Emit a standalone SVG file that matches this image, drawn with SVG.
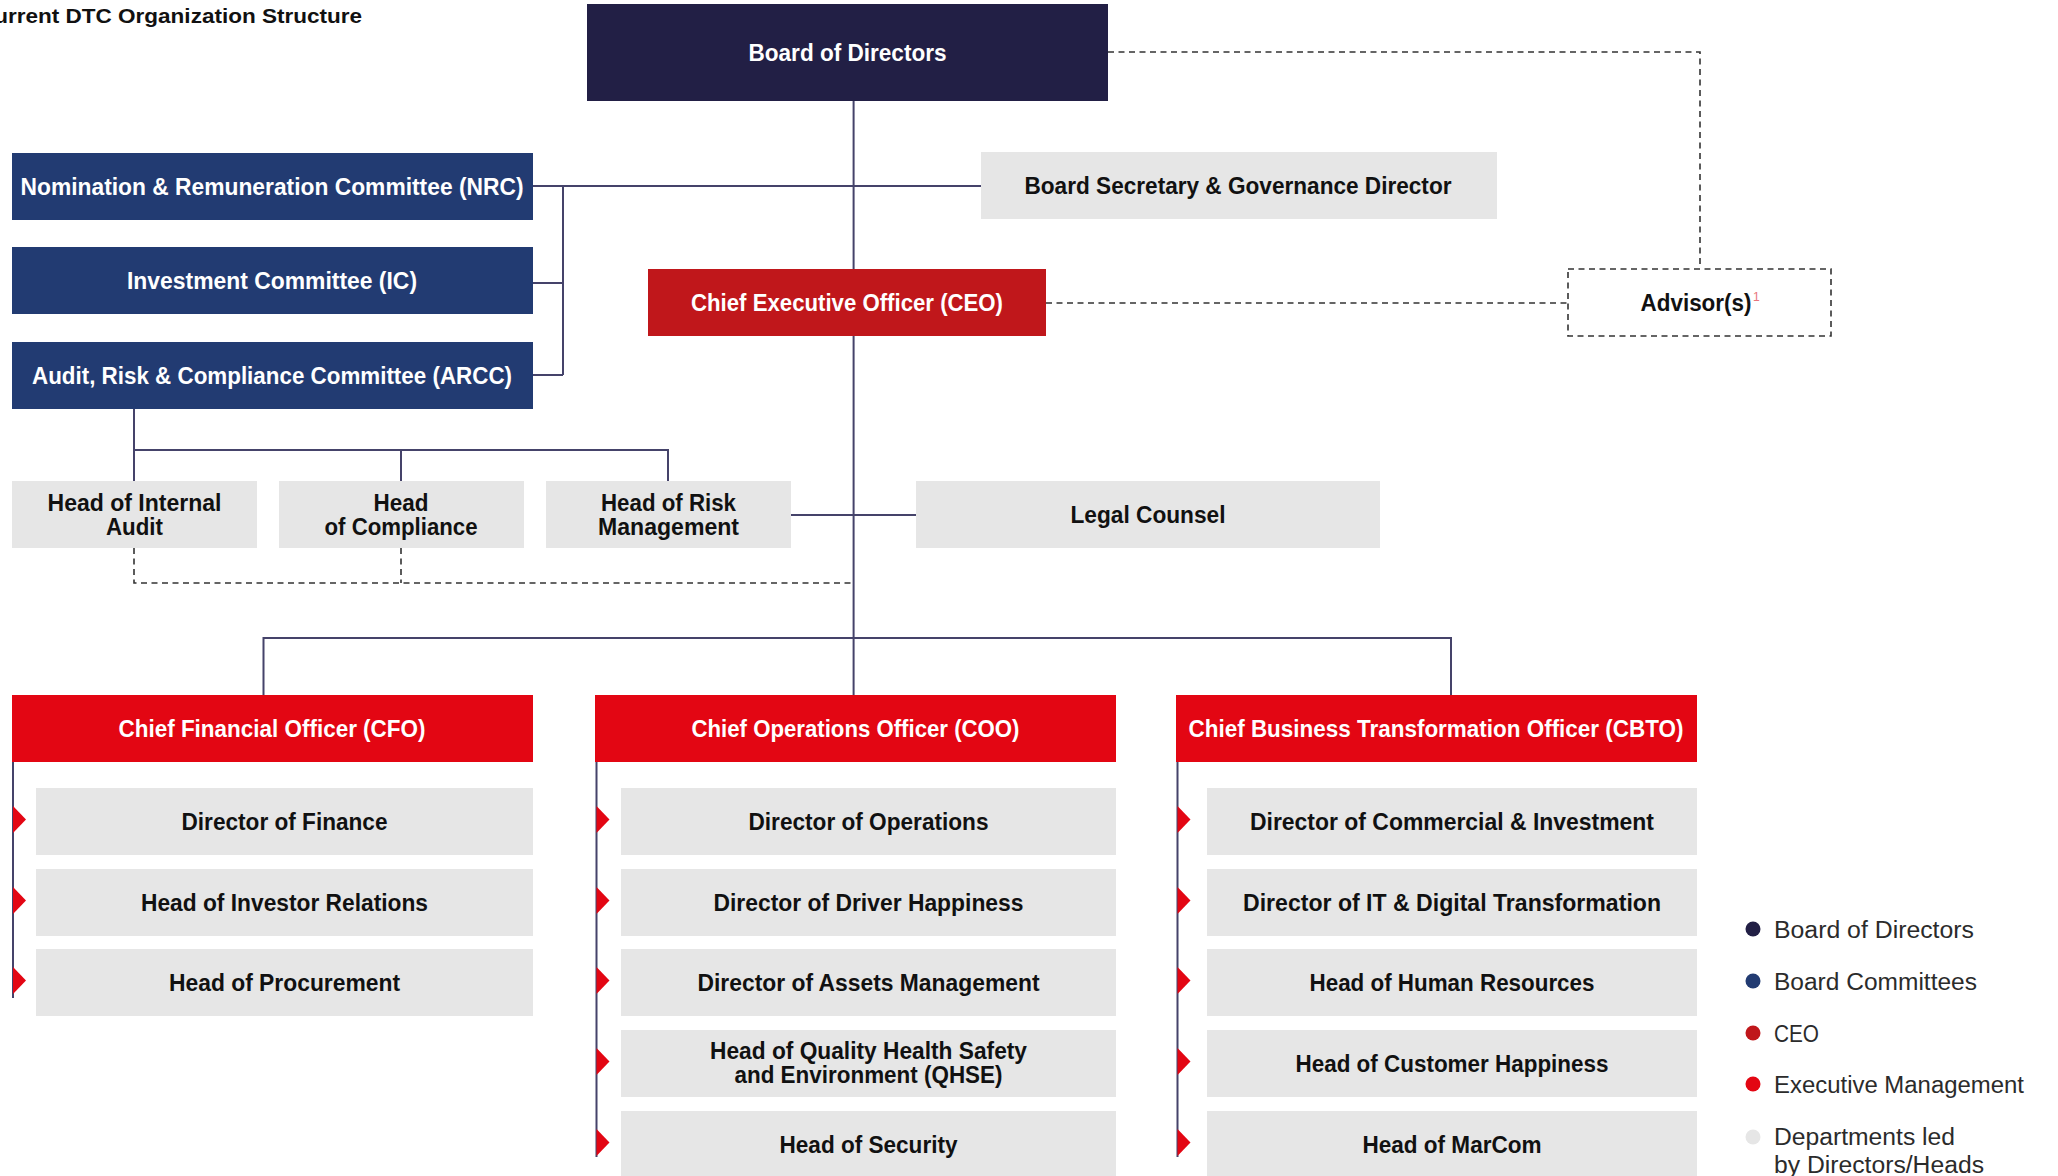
<svg xmlns="http://www.w3.org/2000/svg" width="2058" height="1176" viewBox="0 0 2058 1176">
<style>
.t{font-family:"Liberation Sans",Arial,sans-serif;font-weight:bold;font-size:23px;text-anchor:middle}
.w{fill:#ffffff}
.k{fill:#111111}
.board{fill:#221f45}
.comm{fill:#223b72}
.ceo{fill:#c0171b}
.exec{fill:#e30613}
.dept{fill:#e6e6e6}
.ln{fill:none;stroke:#45436a;stroke-width:2}
.dash{fill:none;stroke:#333333;stroke-width:1.6;stroke-dasharray:6 4.5}
.mk{fill:#e30613}
.leg{font-family:"Liberation Sans",Arial,sans-serif;font-size:23px;fill:#2b2b2b}
</style>
<rect width="2058" height="1176" fill="#ffffff"/>
<text x="362" y="23" class="t k" style="text-anchor:end;font-size:21px" textLength="384" lengthAdjust="spacingAndGlyphs">Current DTC Organization Structure</text>

<g id="connectors">
<path class="ln" d="M853.6,101 V695"/>
<path class="ln" d="M533,186 H981 M533,283 H563 M533,375 H563 M563,186 V375"/>
<path class="ln" d="M134,409 V481 M134,450 H668 V481 M401,450 V481"/>
<path class="ln" d="M791,515 H916"/>
<path class="ln" d="M263.5,695 V638 H1451 V695"/>
<path class="ln" d="M13,762 V998 M596.5,762 V1157 M1177.5,762 V1157"/>
<path class="dash" d="M1108,52 H1700 V268"/>
<path class="dash" d="M1046,303 H1568"/>
<path class="dash" d="M134,548 V583 H853.6 M401,548 V583"/>
<g class="mk">
<polygon points="13,806 26,819.5 13,833"/>
<polygon points="13,887 26,900.5 13,914"/>
<polygon points="13,967 26,980.5 13,994"/>
<polygon points="596.5,806 609.5,819.5 596.5,833"/>
<polygon points="596.5,887 609.5,900.5 596.5,914"/>
<polygon points="596.5,967 609.5,980.5 596.5,994"/>
<polygon points="596.5,1048 609.5,1061.5 596.5,1075"/>
<polygon points="596.5,1129 609.5,1142.5 596.5,1156"/>
<polygon points="1177.5,806 1190.5,819.5 1177.5,833"/>
<polygon points="1177.5,887 1190.5,900.5 1177.5,914"/>
<polygon points="1177.5,967 1190.5,980.5 1177.5,994"/>
<polygon points="1177.5,1048 1190.5,1061.5 1177.5,1075"/>
<polygon points="1177.5,1129 1190.5,1142.5 1177.5,1156"/>
</g>
</g>

<g id="board"><rect class="board" x="587" y="4" width="521" height="97"/><text class="t w" x="847.5" y="61" textLength="198" lengthAdjust="spacingAndGlyphs">Board of Directors</text></g>
<g id="nrc"><rect class="comm" x="12" y="153" width="521" height="67"/><text class="t w" x="272" y="195" textLength="503" lengthAdjust="spacingAndGlyphs">Nomination &amp; Remuneration Committee (NRC)</text></g>
<g id="ic"><rect class="comm" x="12" y="247" width="521" height="67"/><text class="t w" x="272" y="289" textLength="290" lengthAdjust="spacingAndGlyphs">Investment Committee (IC)</text></g>
<g id="arcc"><rect class="comm" x="12" y="342" width="521" height="67"/><text class="t w" x="272" y="384" textLength="480" lengthAdjust="spacingAndGlyphs">Audit, Risk &amp; Compliance Committee (ARCC)</text></g>
<g id="secretary"><rect class="dept" x="981" y="152" width="516" height="67"/><text class="t k" x="1238" y="194" textLength="427" lengthAdjust="spacingAndGlyphs">Board Secretary &amp; Governance Director</text></g>
<g id="ceo"><rect class="ceo" x="648" y="269" width="398" height="67"/><text class="t w" x="847" y="311" textLength="312" lengthAdjust="spacingAndGlyphs">Chief Executive Officer (CEO)</text></g>
<g id="advisor"><rect class="dash" x="1568" y="269" width="263" height="67"/><text class="t k" x="1696" y="311" textLength="111" lengthAdjust="spacingAndGlyphs">Advisor(s)</text><text x="1753" y="301" style="font-family:'Liberation Sans',Arial,sans-serif;font-size:12px;fill:#e8747a">1</text></g>

<g id="internal-audit"><rect class="dept" x="12" y="481" width="245" height="67"/><text class="t k" x="134.5" y="510.5" textLength="174" lengthAdjust="spacingAndGlyphs">Head of Internal</text><text class="t k" x="134.5" y="534.5" textLength="57" lengthAdjust="spacingAndGlyphs">Audit</text></g>
<g id="compliance"><rect class="dept" x="279" y="481" width="245" height="67"/><text class="t k" x="401" y="510.5" textLength="55" lengthAdjust="spacingAndGlyphs">Head</text><text class="t k" x="401" y="534.5" textLength="153" lengthAdjust="spacingAndGlyphs">of Compliance</text></g>
<g id="risk"><rect class="dept" x="546" y="481" width="245" height="67"/><text class="t k" x="668.5" y="510.5" textLength="135" lengthAdjust="spacingAndGlyphs">Head of Risk</text><text class="t k" x="668.5" y="534.5" textLength="141" lengthAdjust="spacingAndGlyphs">Management</text></g>
<g id="legal"><rect class="dept" x="916" y="481" width="464" height="67"/><text class="t k" x="1148" y="523" textLength="155" lengthAdjust="spacingAndGlyphs">Legal Counsel</text></g>

<g id="cfo"><rect class="exec" x="12" y="695" width="521" height="67"/><text class="t w" x="272" y="737" textLength="307" lengthAdjust="spacingAndGlyphs">Chief Financial Officer (CFO)</text></g>
<g id="coo"><rect class="exec" x="595" y="695" width="521" height="67"/><text class="t w" x="855.5" y="737" textLength="328" lengthAdjust="spacingAndGlyphs">Chief Operations Officer (COO)</text></g>
<g id="cbto"><rect class="exec" x="1176" y="695" width="521" height="67"/><text class="t w" x="1436" y="737" textLength="495" lengthAdjust="spacingAndGlyphs">Chief Business Transformation Officer (CBTO)</text></g>

<g id="dir-finance"><rect class="dept" x="36" y="788" width="497" height="67"/><text class="t k" x="284.5" y="830" textLength="206" lengthAdjust="spacingAndGlyphs">Director of Finance</text></g>
<g id="investor-relations"><rect class="dept" x="36" y="869" width="497" height="67"/><text class="t k" x="284.5" y="911" textLength="287" lengthAdjust="spacingAndGlyphs">Head of Investor Relations</text></g>
<g id="procurement"><rect class="dept" x="36" y="949" width="497" height="67"/><text class="t k" x="284.5" y="991" textLength="231" lengthAdjust="spacingAndGlyphs">Head of Procurement</text></g>

<g id="dir-operations"><rect class="dept" x="621" y="788" width="495" height="67"/><text class="t k" x="868.5" y="830" textLength="240" lengthAdjust="spacingAndGlyphs">Director of Operations</text></g>
<g id="driver-happiness"><rect class="dept" x="621" y="869" width="495" height="67"/><text class="t k" x="868.5" y="911" textLength="310" lengthAdjust="spacingAndGlyphs">Director of Driver Happiness</text></g>
<g id="assets"><rect class="dept" x="621" y="949" width="495" height="67"/><text class="t k" x="868.5" y="991" textLength="342" lengthAdjust="spacingAndGlyphs">Director of Assets Management</text></g>
<g id="qhse"><rect class="dept" x="621" y="1030" width="495" height="67"/><text class="t k" x="868.5" y="1059" textLength="317" lengthAdjust="spacingAndGlyphs">Head of Quality Health Safety</text><text class="t k" x="868.5" y="1083" textLength="268" lengthAdjust="spacingAndGlyphs">and Environment (QHSE)</text></g>
<g id="security"><rect class="dept" x="621" y="1111" width="495" height="67"/><text class="t k" x="868.5" y="1153" textLength="178" lengthAdjust="spacingAndGlyphs">Head of Security</text></g>

<g id="commercial"><rect class="dept" x="1207" y="788" width="490" height="67"/><text class="t k" x="1452" y="830" textLength="404" lengthAdjust="spacingAndGlyphs">Director of Commercial &amp; Investment</text></g>
<g id="it-digital"><rect class="dept" x="1207" y="869" width="490" height="67"/><text class="t k" x="1452" y="911" textLength="418" lengthAdjust="spacingAndGlyphs">Director of IT &amp; Digital Transformation</text></g>
<g id="hr"><rect class="dept" x="1207" y="949" width="490" height="67"/><text class="t k" x="1452" y="991" textLength="285" lengthAdjust="spacingAndGlyphs">Head of Human Resources</text></g>
<g id="customer"><rect class="dept" x="1207" y="1030" width="490" height="67"/><text class="t k" x="1452" y="1072" textLength="313" lengthAdjust="spacingAndGlyphs">Head of Customer Happiness</text></g>
<g id="marcom"><rect class="dept" x="1207" y="1111" width="490" height="67"/><text class="t k" x="1452" y="1153" textLength="179" lengthAdjust="spacingAndGlyphs">Head of MarCom</text></g>

<g id="legend">
<circle class="board" cx="1753" cy="929" r="7.5"/><text class="leg" x="1774" y="938" textLength="200" lengthAdjust="spacingAndGlyphs">Board of Directors</text>
<circle class="comm" cx="1753" cy="981" r="7.5"/><text class="leg" x="1774" y="990" textLength="203" lengthAdjust="spacingAndGlyphs">Board Committees</text>
<circle class="ceo" cx="1753" cy="1033" r="7.5"/><text class="leg" x="1774" y="1042" textLength="45" lengthAdjust="spacingAndGlyphs">CEO</text>
<circle class="exec" cx="1753" cy="1084" r="7.5"/><text class="leg" x="1774" y="1093" textLength="250" lengthAdjust="spacingAndGlyphs">Executive Management</text>
<circle class="dept" cx="1753" cy="1137" r="7.5"/><text class="leg" x="1774" y="1145" textLength="181" lengthAdjust="spacingAndGlyphs">Departments led</text><text class="leg" x="1774" y="1173" textLength="210" lengthAdjust="spacingAndGlyphs">by Directors/Heads</text>
</g>
</svg>
